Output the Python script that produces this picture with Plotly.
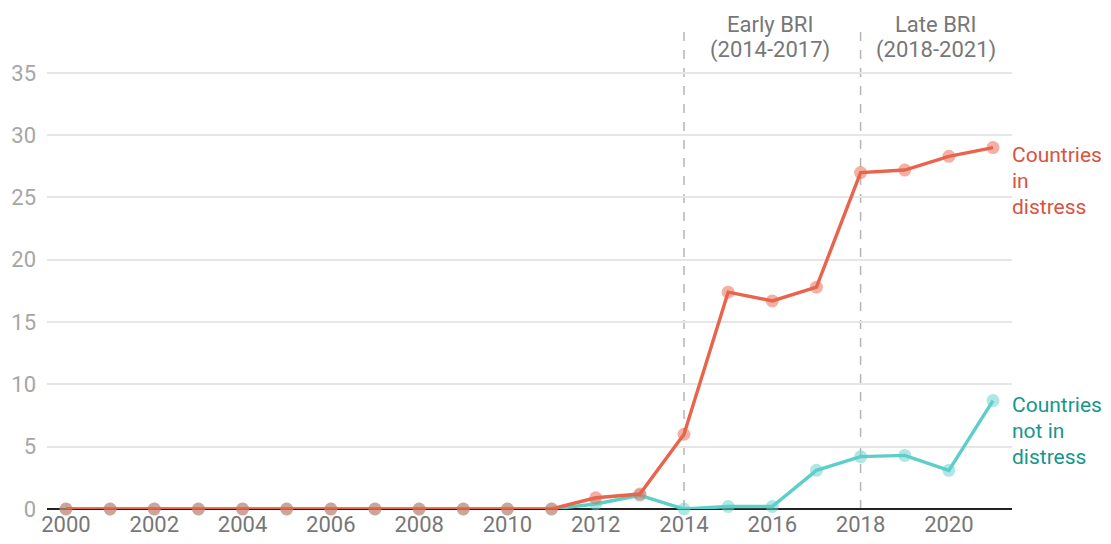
import plotly.graph_objects as go

RED = "#E8644C"
RED_TXT = "#D9533E"
TEAL = "#5ECFC8"
TEAL_TXT = "#16968C"
GRID = "#E6E6E6"
TICK_Y = "#A6A6A6"
TICK_X = "#777777"
FONT = "Roboto"

years = list(range(2000, 2022))
in_distress = [0, 0, 0, 0, 0, 0, 0, 0, 0, 0, 0, 0,
               0.9, 1.2, 6.0, 17.4, 16.7, 17.8, 27.0, 27.2, 28.3, 29.0]
not_distress = [0, 0, 0, 0, 0, 0, 0, 0, 0, 0, 0, 0,
                0.4, 1.1, 0.0, 0.2, 0.2, 3.1, 4.2, 4.3, 3.1, 8.7]
period_starts = [2014, 2018]
period_labels = [["Early BRI", "(2014-2017)"], ["Late BRI", "(2018-2021)"]]
period_centers = [2015.95, 2019.7]
end_labels = [["Countries", "in", "distress"], ["Countries", "not in", "distress"]]

fig = go.Figure()
for ys, col in [(not_distress, TEAL), (in_distress, RED)]:
    fig.add_trace(go.Scatter(
        x=years, y=ys, mode="lines",
        line=dict(color=col, width=3.4),
        hoverinfo="skip", showlegend=False,
    ))
    fig.add_trace(go.Scatter(
        x=years, y=ys, mode="markers",
        marker=dict(color=col, size=13, opacity=0.5),
        showlegend=False, cliponaxis=False,
    ))

for x0 in period_starts:
    fig.add_shape(type="line", x0=x0, x1=x0, y0=0, y1=39, xref="x", yref="y",
                  line=dict(color="#B5B5B5", width=1.5, dash="dash"), layer="below")

annotations = []
# period headers, one annotation per line to keep the tight line spacing
for xc, lines in zip(period_centers, period_labels):
    for i, txt in enumerate(lines):
        annotations.append(dict(x=xc, y=1.0, xref="x", yref="paper", text=txt,
                                showarrow=False, yanchor="middle", yshift=-1 - 26 * i,
                                font=dict(family=FONT, size=22, color="#777777")))
# end-of-line labels (a touch smaller so they stay inside the window)
for last, lines, col, off in [(in_distress[-1], end_labels[0], RED_TXT, -7),
                              (not_distress[-1], end_labels[1], TEAL_TXT, -4)]:
    for i, txt in enumerate(lines):
        annotations.append(dict(x=2021.43, y=last, xref="x", yref="y", text=txt,
                                showarrow=False, xanchor="left", yanchor="middle",
                                yshift=off - 26 * i, xshift=-2,
                                font=dict(family=FONT, size=21, color=col)))

fig.update_layout(
    width=1103, height=536,
    plot_bgcolor="white", paper_bgcolor="white",
    margin=dict(l=39, r=99, t=15, b=35),
    font=dict(family=FONT),
    annotations=annotations,
    xaxis=dict(range=[1999.57, 2021.43], tickmode="array",
               tickvals=list(range(2000, 2022, 2)), showgrid=False,
               zeroline=False, showline=False, automargin=False,
               tickfont=dict(family=FONT, size=22, color=TICK_X)),
    yaxis=dict(range=[0, 39], tickmode="array", tickvals=list(range(0, 40, 5)),
               showgrid=True, gridcolor=GRID, gridwidth=1.5,
               zeroline=True, zerolinecolor="#222222", zerolinewidth=2,
               ticklabelstandoff=10, automargin=False,
               tickfont=dict(family=FONT, size=22, color=TICK_Y)),
)

fig.write_html("out.html")
